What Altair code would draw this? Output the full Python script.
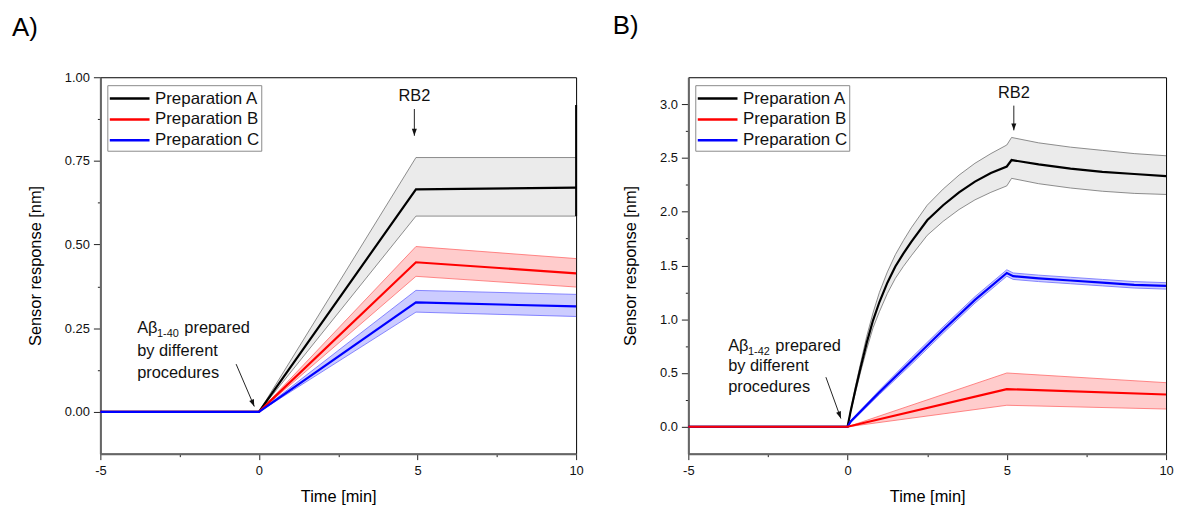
import altair as alt
import pandas as pd

FONT = "Liberation Sans"
SERIES = ["Preparation A", "Preparation B", "Preparation C"]
LINE_COLORS = ["#000000", "#ff0000", "#0000ff"]
BAND_OPACITY = [0.08, 0.2, 0.2]
EDGE_COLORS = ["#707070", "#ff6a6a", "#6a6aff"]

# ---------------- Panel A (Abeta 1-40) ----------------
A_T = [-5, 0, 4.95, 10]
A_A_MEAN = [0, 0, 0.665, 0.67]
A_A_LO = [0, 0, 0.585, 0.585]
A_A_HI = [0, 0, 0.76, 0.76]
A_B_MEAN = [0, 0, 0.447, 0.414]
A_B_LO = [0, 0, 0.405, 0.373]
A_B_HI = [0, 0, 0.494, 0.458]
A_C_MEAN = [0, 0, 0.327, 0.315]
A_C_LO = [0, 0, 0.298, 0.285]
A_C_HI = [0, 0, 0.363, 0.351]
A_SPIKE_T = [10, 10]
A_SPIKE_Y = [0.585, 0.917]

# ---------------- Panel B (Abeta 1-42) ----------------
B_T_A = [-5, 0, 0.1, 0.25, 0.4, 0.6, 0.8, 1.0, 1.25, 1.5, 1.75, 2.0, 2.5, 3.0, 3.5, 4.0, 4.5, 5.0,
         5.15, 6, 7, 8, 9, 10]
B_A_MEAN = [0, 0, 0.15, 0.35, 0.54, 0.78, 0.99, 1.16, 1.34, 1.49, 1.61, 1.72, 1.92, 2.06, 2.18, 2.28, 2.36, 2.42,
            2.48, 2.44, 2.40, 2.37, 2.35, 2.33]
B_A_HI = [0, 0, 0.16, 0.38, 0.58, 0.84, 1.06, 1.25, 1.44, 1.60, 1.73, 1.85, 2.06, 2.21, 2.34, 2.45, 2.54, 2.62,
          2.69, 2.64, 2.60, 2.57, 2.54, 2.52]
B_A_LO = [0, 0, 0.14, 0.32, 0.50, 0.72, 0.92, 1.07, 1.24, 1.38, 1.49, 1.59, 1.78, 1.91, 2.02, 2.11, 2.18, 2.24,
          2.31, 2.26, 2.22, 2.19, 2.17, 2.16]
B_T_B = [-5, 0, 5, 10]
B_B_MEAN = [0, 0, 0.35, 0.30]
B_B_HI = [0, 0, 0.50, 0.41]
B_B_LO = [0, 0, 0.20, 0.165]
B_T_C = [-5, 0, 0.1, 1, 2, 3, 4, 5, 5.2, 6, 7, 8, 9, 10]
B_C_MEAN = [0, 0, 0.05, 0.32, 0.61, 0.90, 1.18, 1.43, 1.40, 1.38, 1.36, 1.34, 1.32, 1.31]
B_C_HI = [0, 0, 0.06, 0.34, 0.64, 0.93, 1.21, 1.46, 1.43, 1.41, 1.39, 1.37, 1.35, 1.34]
B_C_LO = [0, 0, 0.04, 0.30, 0.58, 0.87, 1.15, 1.40, 1.37, 1.35, 1.33, 1.31, 1.29, 1.28]

# ---------------- annotations ----------------
A_NOTE_X = -3.84
A_NOTE_Y = [0.237, 0.166, 0.101]
A_NOTE_SUB = "1-40"
A_NOTE_ARROW_X = [-0.72, -0.147]
A_NOTE_ARROW_Y = [0.1426, 0.016]
A_NOTE_HEAD_ANGLE = 337
A_RB2_X = 4.9
A_RB2_TEXT_Y = 0.944
A_RB2_ARROW_Y = [0.905, 0.825]

B_NOTE_X = -3.75
B_NOTE_Y = [0.708, 0.514, 0.323]
B_NOTE_SUB = "1-42"
B_NOTE_ARROW_X = [-0.68, -0.21]
B_NOTE_ARROW_Y = [0.461, 0.077]
B_NOTE_HEAD_ANGLE = 340
B_RB2_X = 5.22
B_RB2_TEXT_Y = 3.106
B_RB2_ARROW_Y = [2.986, 2.756]

A_Y_DOMAIN = [-0.125, 1.0]
A_Y_TICKS = [0, 0.125, 0.25, 0.375, 0.5, 0.625, 0.75, 0.875, 1.0]
B_Y_DOMAIN = [-0.25, 3.25]
B_Y_TICKS = [0, 0.25, 0.5, 0.75, 1.0, 1.25, 1.5, 1.75, 2.0, 2.25, 2.5, 2.75, 3.0]
X_DOMAIN = [-5, 10]
X_TICKS = [-5, -2.5, 0, 2.5, 5, 7.5, 10]

HEAD_PATH = "M0,0 L-0.36,-1 L0.36,-1 Z"
LEGEND_LINE = "M-2,0 L2,0"


def series_frame(rows):
    out = []
    for name, ts, mean, lo, hi in rows:
        for i, (t, m, l, h) in enumerate(zip(ts, mean, lo, hi)):
            out.append({"series": name, "t": t, "mean": m, "lo": l, "hi": h, "i": i})
    return pd.DataFrame(out)


def panel(df, order, ydom, yticks, ymaj, yfmt, label, title_dx, title_offset,
          width, ytitle_x, note_x, note_y, note_sub, arrow_x, arrow_y, head_angle,
          rb2_x, rb2_text_y, rb2_arrow_y, spike=None):
    xscale = alt.Scale(domain=X_DOMAIN, nice=False, zero=False)
    yscale = alt.Scale(domain=ydom, nice=False, zero=False)
    xaxis = alt.Axis(
        title="Time [min]", values=X_TICKS,
        labelExpr="datum.value % 5 === 0 ? '' + datum.value : ''",
        tickSize={"condition": {"test": "datum.value % 5 !== 0", "value": 3}, "value": 6},
        labelPadding=5, titleX=width / 2, titleY=48.5, titleBaseline="alphabetic",
        titleAlign="center",
    )
    yaxis = alt.Axis(
        title="Sensor response [nm]", values=yticks,
        labelExpr=f"datum.value % {ymaj} === 0 ? format(datum.value, '{yfmt}') : ''",
        tickSize={"condition": {"test": f"datum.value % {ymaj} !== 0", "value": 3}, "value": 7},
        labelPadding=4, titleX=ytitle_x, titleY=189.5, titleBaseline="middle",
        titleAlign="center", titleAngle=270,
    )

    def X(f):
        return alt.X(f, scale=xscale, axis=xaxis)

    def Y(f):
        return alt.Y(f, scale=yscale, axis=yaxis)

    base = alt.Chart(df)
    layers = []
    for s in order:
        k = SERIES.index(s)
        b = base.transform_filter(alt.datum.series == s)
        layers.append(b.mark_area(fill=LINE_COLORS[k], fillOpacity=BAND_OPACITY[k], stroke=None).encode(
            x=X("t:Q"), y=Y("lo:Q"), y2="hi:Q"))
        layers.append(b.mark_line(color=EDGE_COLORS[k], strokeWidth=0.8).encode(
            x=X("t:Q"), y=Y("lo:Q"), order="i:Q"))
        layers.append(b.mark_line(color=EDGE_COLORS[k], strokeWidth=0.8).encode(
            x=X("t:Q"), y=Y("hi:Q"), order="i:Q"))
    if spike is not None:
        sp = pd.DataFrame({"t": [spike[0][0]], "y1": [spike[1][0]], "y2": [spike[1][1]]})
        layers.append(alt.Chart(sp).mark_rule(color="black", strokeWidth=2).encode(
            x=X("t:Q"), y=Y("y1:Q"), y2="y2:Q"))
    legend = alt.Legend(
        title=None, orient="none", legendX=7, legendY=8, symbolType=LEGEND_LINE,
        symbolSize=400, symbolStrokeWidth=2.5, symbolOffset=9, labelOffset=14,
        labelFontSize=17, labelFont=FONT,
        labelColor="#111111", padding=2, rowPadding=1,
        strokeColor="#8a8a8a", fillColor="white", labelLimit=300,
    )
    for s in order:
        b = base.transform_filter(alt.datum.series == s)
        layers.append(b.mark_line(strokeWidth=2.2).encode(
            x=X("t:Q"), y=Y("mean:Q"),
            color=alt.Color("series:N", scale=alt.Scale(domain=SERIES, range=LINE_COLORS), legend=legend),
            order="i:Q"))

    # annotation text "Abeta(sub) prepared / by different / procedures"
    t1 = pd.DataFrame({"x": [note_x], "y": [note_y[0]]})
    layers.append(alt.Chart(t1).mark_text(text="A\u03b2", align="left", baseline="alphabetic",
                                          fontSize=16.5, color="#111111").encode(x=X("x:Q"), y=Y("y:Q")))
    layers.append(alt.Chart(t1).mark_text(text=note_sub, align="left", baseline="alphabetic",
                                          fontSize=11, dx=20, dy=4, color="#111111").encode(x=X("x:Q"), y=Y("y:Q")))
    layers.append(alt.Chart(t1).mark_text(text="prepared", align="left", baseline="alphabetic",
                                          fontSize=16.5, dx=47.5, color="#111111").encode(x=X("x:Q"), y=Y("y:Q")))
    t23 = pd.DataFrame({"x": [note_x, note_x], "y": note_y[1:], "txt": ["by different", "procedures"]})
    layers.append(alt.Chart(t23).mark_text(align="left", baseline="alphabetic", fontSize=16.5,
                                           color="#111111").encode(x=X("x:Q"), y=Y("y:Q"), text="txt:N"))
    ar = pd.DataFrame({"x1": [arrow_x[0]], "x2": [arrow_x[1]], "y1": [arrow_y[0]], "y2": [arrow_y[1]]})
    layers.append(alt.Chart(ar).mark_rule(color="#222222", strokeWidth=1).encode(
        x=X("x1:Q"), x2="x2:Q", y=Y("y1:Q"), y2="y2:Q"))
    layers.append(alt.Chart(ar).mark_point(shape=HEAD_PATH, size=196, filled=True, color="#111111",
                                           opacity=1, angle=head_angle).encode(x=X("x2:Q"), y=Y("y2:Q")))
    # RB2
    rb = pd.DataFrame({"x": [rb2_x], "ty": [rb2_text_y], "y1": [rb2_arrow_y[0]], "y2": [rb2_arrow_y[1]]})
    layers.append(alt.Chart(rb).mark_text(text="RB2", align="center", baseline="middle", fontSize=16.5,
                                          color="#111111").encode(x=X("x:Q"), y=Y("ty:Q")))
    layers.append(alt.Chart(rb).mark_rule(color="#222222", strokeWidth=1).encode(
        x=X("x:Q"), y=Y("y1:Q"), y2="y2:Q"))
    layers.append(alt.Chart(rb).mark_point(shape=HEAD_PATH, size=196, filled=True, color="#111111",
                                           opacity=1, angle=0).encode(x=X("x:Q"), y=Y("y2:Q")))

    return alt.layer(*layers).properties(
        width=width, height=379,
        title=alt.TitleParams(label, anchor="start", frame="group", dx=title_dx, fontSize=26,
                              fontWeight="normal", baseline="alphabetic", offset=title_offset,
                              font=FONT, color="#000000"),
    )


dfA = series_frame([
    ("Preparation A", A_T, A_A_MEAN, A_A_LO, A_A_HI),
    ("Preparation B", A_T, A_B_MEAN, A_B_LO, A_B_HI),
    ("Preparation C", A_T, A_C_MEAN, A_C_LO, A_C_HI),
])
dfB = series_frame([
    ("Preparation A", B_T_A, B_A_MEAN, B_A_LO, B_A_HI),
    ("Preparation B", B_T_B, B_B_MEAN, B_B_LO, B_B_HI),
    ("Preparation C", B_T_C, B_C_MEAN, B_C_LO, B_C_HI),
])

pA = panel(dfA, ["Preparation A", "Preparation B", "Preparation C"], A_Y_DOMAIN, A_Y_TICKS, 0.25, ".2f",
           "A)", -89, 10, 479, -65.5, A_NOTE_X, A_NOTE_Y, A_NOTE_SUB, A_NOTE_ARROW_X, A_NOTE_ARROW_Y,
           A_NOTE_HEAD_ANGLE, A_RB2_X, A_RB2_TEXT_Y, A_RB2_ARROW_Y, spike=(A_SPIKE_T, A_SPIKE_Y))
pB = panel(dfB, ["Preparation A", "Preparation C", "Preparation B"], B_Y_DOMAIN, B_Y_TICKS, 0.5, ".1f",
           "B)", -76, 17.5, 481, -58, B_NOTE_X, B_NOTE_Y, B_NOTE_SUB, B_NOTE_ARROW_X, B_NOTE_ARROW_Y,
           B_NOTE_HEAD_ANGLE, B_RB2_X, B_RB2_TEXT_Y, B_RB2_ARROW_Y)

chart = alt.hconcat(pA, pB, spacing=113, bounds="flush").resolve_scale(
    x="independent", y="independent", color="independent"
).resolve_legend(color="independent").properties(
    padding={"left": 3, "top": 3, "right": 0, "bottom": 0}
).configure(font=FONT).configure_view(
    stroke="#000000", strokeWidth=1
).configure_axis(
    grid=False, domainColor="#666666", domainWidth=2, tickColor="#222222", tickWidth=1,
    labelFontSize=13, labelColor="#111111", labelFont=FONT, titleFont=FONT, titleFontSize=16.5,
    titleFontWeight="normal", titleColor="#000000", labelFlush=False, labelOverlap=False,
    labelBound=False,
)

chart.save("out.html", embed_options={"renderer": "svg", "actions": False})
